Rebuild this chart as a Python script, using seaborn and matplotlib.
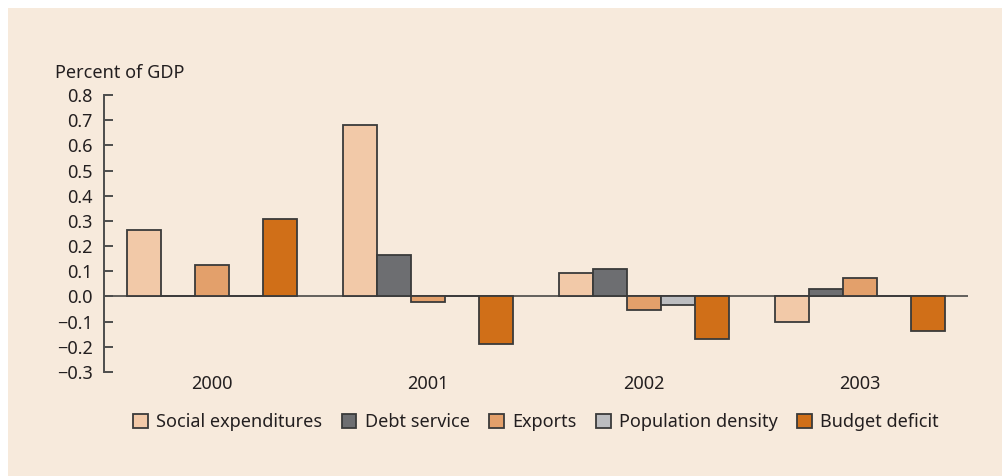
import numpy as np
import pandas as pd
import matplotlib
matplotlib.use("Agg")
import matplotlib.pyplot as plt
from matplotlib.patches import Rectangle, Patch
import seaborn as sns

# data (percent of GDP)
years = ["2000", "2001", "2002", "2003"]
series = ["Social expenditures", "Debt service", "Exports",
          "Population density", "Budget deficit"]
social = [0.262, 0.682, 0.093, -0.102]
debt = [0.0, 0.163, 0.111, 0.029]
exports = [0.123, -0.021, -0.054, 0.073]
popdens = [0.0, 0.0, -0.033, 0.0]
budget = [0.308, -0.189, -0.168, -0.139]
yticks = [-0.3, -0.2, -0.1, 0.0, 0.1, 0.2, 0.3, 0.4, 0.5, 0.6, 0.7, 0.8]

colors = ["#F2C9A8", "#6D6E71", "#E3A06B", "#BCBDC0", "#D06F18"]
bg = "#F7EADC"
ink = "#231F20"
fs = 13

rows = []
for name, vals in zip(series, [social, debt, exports, popdens, budget]):
    for yr, v in zip(years, vals):
        rows.append({"year": yr, "series": name, "value": v})
df = pd.DataFrame(rows)

sns.set_theme(style="white")
plt.rcParams["font.family"] = ["Noto Sans", "DejaVu Sans"]

fig = plt.figure(figsize=(10.02, 4.76), dpi=100)
fig.patch.set_facecolor("white")
# beige panel with small white margin top/left
fig.patches.append(Rectangle((8 / 1002, 0), 1, 1 - 8 / 476, transform=fig.transFigure,
                             facecolor=bg, edgecolor="none", zorder=-10))

ax = fig.add_axes([104 / 1002, 1 - 372 / 476, 864 / 1002, (372 - 95) / 476])
ax.set_facecolor("none")

sns.barplot(data=df, x="year", y="value", hue="series", order=years, hue_order=series,
            palette=colors, edgecolor="#3A3A3A", linewidth=1.3, width=0.79,
            saturation=1, errorbar=None, legend=False, ax=ax)

ax.axhline(0, color="#3A3A3A", lw=1.1, zorder=0.5)
ax.set_xlim(-0.5, 3.5)
ax.set_ylim(-0.3, 0.8)
ax.set_yticks(yticks)
ax.set_yticklabels([("\u2212" if t < 0 else "") + "%.1f" % abs(t) for t in yticks])
ax.set_xlabel("")
ax.set_ylabel("")

for s in ["top", "right", "bottom"]:
    ax.spines[s].set_visible(False)
ax.spines["left"].set_color("#4D4D4D")
ax.spines["left"].set_linewidth(1.4)
ax.tick_params(axis="y", direction="in", length=6.5, width=1.4, color="#4D4D4D",
               pad=8, labelsize=fs, labelcolor=ink, left=True)
ax.tick_params(axis="x", length=0, pad=2, labelsize=fs, labelcolor=ink)

fig.text(55 / 1002, 1 - 73 / 476, "Percent of GDP", fontsize=fs, color=ink,
         ha="left", va="center")

handles = [Patch(facecolor=c, edgecolor="#3A3A3A", linewidth=1.3) for c in colors]
ax.legend(handles, series, loc="center", bbox_to_anchor=(536 / 1002, (476 - 422) / 476),
          bbox_transform=fig.transFigure, ncol=5, frameon=False, fontsize=fs,
          handlelength=0.8, handleheight=0.8, handletextpad=0.45,
          columnspacing=1.1, labelcolor=ink, borderpad=0)

fig.savefig("out.png", dpi=100, facecolor=fig.get_facecolor())
